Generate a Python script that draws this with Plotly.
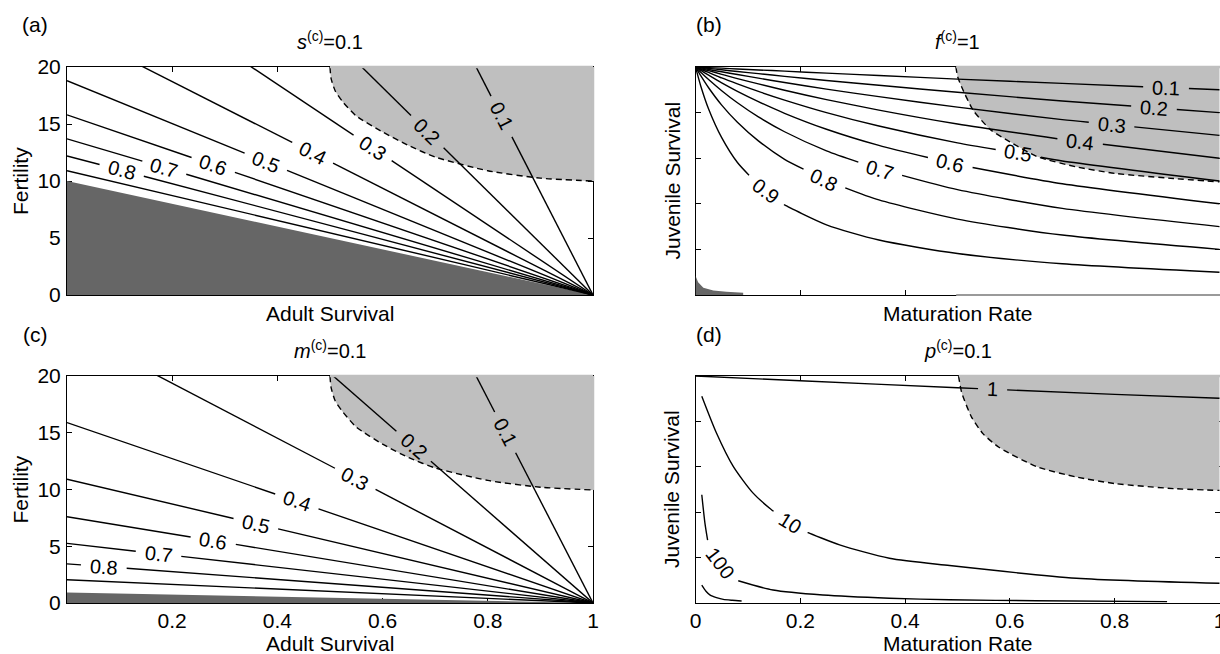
import numpy as np
import plotly.graph_objects as go

W, H = 1220, 654
FONT = "Liberation Sans, Arial, Helvetica, sans-serif"
LIGHT = "#bfbfbf"
DARK = "#666666"
FS = 21        # tick / axis-title size
LFS = 20       # contour label size

# ---------------- panel (a): s(c)=0.1 ----------------
a_levels = ["0.9", "0.8", "0.7", "0.6", "0.5", "0.4", "0.3", "0.2", "0.1"]
a_intercepts = [10.9, 12.2, 13.7, 15.8, 18.8, 23.4, 30.8, 45.5, 90.0]   # fertility at adult survival 0
a_label_x = [None, 0.104, 0.185, 0.278, 0.378, 0.467, 0.581, 0.685, 0.826]
a_dark_intercept = 10.0
a_bound_x = [0.5, 0.502, 0.51, 0.525, 0.55, 0.6, 0.65, 0.7, 0.8, 0.9, 1.0]
a_bound_y = [20.0, 19.0, 17.9, 16.9, 15.7, 14.3, 13.1, 12.1, 10.9, 10.25, 10.0]

# ---------------- panel (c): m(c)=0.1 ----------------
c_levels = ["0.9", "0.8", "0.7", "0.6", "0.5", "0.4", "0.3", "0.2", "0.1"]
c_intercepts = [2.05, 3.45, 5.25, 7.6, 10.9, 15.9, 24.2, 40.5, 90.0]
c_label_x = [None, 0.07, 0.174, 0.278, 0.359, 0.437, 0.548, 0.659, 0.833]
c_dark_intercept = 0.93
c_bound_x = [0.5, 0.502, 0.51, 0.525, 0.55, 0.6, 0.65, 0.7, 0.8, 0.9, 1.0]
c_bound_y = [20.0, 19.0, 17.8, 16.8, 15.5, 14.0, 12.8, 11.9, 10.8, 10.2, 9.96]

# ---------------- panel (b): f(c)=1 ----------------
b_x = [0.0, 0.01, 0.025, 0.05, 0.08, 0.12, 0.17, 0.25, 0.35, 0.5, 0.7, 1.0]
b_levels = ["0.1", "0.2", "0.3", "0.4", "0.5", "0.6", "0.7", "0.8", "0.9"]
b_y01 = [1.0, 0.999, 0.997, 0.995, 0.991, 0.987, 0.982, 0.973, 0.963, 0.947, 0.928, 0.900]
b_y02 = [1.0, 0.998, 0.994, 0.988, 0.980, 0.971, 0.959, 0.941, 0.920, 0.889, 0.851, 0.800]
b_y03 = [1.0, 0.996, 0.989, 0.979, 0.967, 0.951, 0.932, 0.903, 0.870, 0.824, 0.769, 0.700]
b_y04 = [1.0, 0.993, 0.984, 0.968, 0.949, 0.926, 0.898, 0.857, 0.811, 0.750, 0.682, 0.600]
b_y05 = [1.0, 0.990, 0.976, 0.952, 0.926, 0.893, 0.855, 0.800, 0.741, 0.667, 0.588, 0.500]
b_y06 = [1.0, 0.985, 0.964, 0.930, 0.893, 0.848, 0.797, 0.727, 0.656, 0.571, 0.488, 0.400]
b_y07 = [1.0, 0.977, 0.945, 0.896, 0.843, 0.781, 0.716, 0.632, 0.551, 0.462, 0.380, 0.300]
b_y08 = [1.0, 0.962, 0.909, 0.833, 0.758, 0.676, 0.595, 0.500, 0.417, 0.333, 0.263, 0.200]
b_y09 = [1.0, 0.917, 0.816, 0.690, 0.581, 0.481, 0.395, 0.308, 0.241, 0.182, 0.137, 0.100]
b_curves = [b_y01, b_y02, b_y03, b_y04, b_y05, b_y06, b_y07, b_y08, b_y09]
b_label_x = [0.898, 0.875, 0.794, 0.734, 0.616, 0.486, 0.352, 0.245, 0.134]
b_dark_x = [0.0, 0.0, 0.005, 0.015, 0.034, 0.059, 0.091, 0.091]
b_dark_y = [0.0, 0.084, 0.056, 0.032, 0.020, 0.014, 0.010, 0.0]
b_bound_x = [0.497, 0.5, 0.508, 0.53, 0.564, 0.6, 0.653, 0.727, 0.801, 0.912, 1.0]
b_bound_y = [1.0, 0.96, 0.912, 0.81, 0.723, 0.672, 0.606, 0.562, 0.533, 0.511, 0.496]

# ---------------- panel (d): p(c)=0.1 ----------------
d1_x = [0.0, 0.2, 0.5, 0.8, 1.0]
d1_y = [1.0, 0.979, 0.948, 0.919, 0.902]
d10_x = [0.012, 0.04, 0.072, 0.11, 0.145, 0.18, 0.215, 0.275, 0.37, 0.485, 0.727, 1.0]
d10_y = [0.911, 0.749, 0.602, 0.484, 0.411, 0.352, 0.31, 0.256, 0.197, 0.165, 0.109, 0.087]
d100_x = [0.012, 0.018, 0.024, 0.047, 0.0815, 0.148, 0.243, 0.37, 0.485, 0.65, 0.90]
d100_y = [0.477, 0.352, 0.264, 0.178, 0.098, 0.057, 0.035, 0.021, 0.014, 0.010, 0.006]
d1000_x = [0.012, 0.02, 0.028, 0.04, 0.053, 0.07, 0.088]
d1000_y = [0.079, 0.052, 0.035, 0.024, 0.016, 0.012, 0.009]
d_labels = ["1", "10", "100"]
d_label_x = [0.567, 0.18, 0.047]
d_bound_x = [0.502, 0.508, 0.527, 0.549, 0.579, 0.653, 0.727, 0.801, 0.912, 1.0]
d_bound_y = [1.0, 0.927, 0.818, 0.745, 0.686, 0.599, 0.555, 0.526, 0.504, 0.496]

# ---------------- layout geometry (pixels) ----------------
BOX = {  # left, right, top, bottom
    "a": (67, 593, 67, 295),
    "b": (695.5, 1220, 67, 295),
    "c": (67, 593, 376, 603),
    "d": (695.5, 1220, 376, 603),
}
AX = {"a": ("x", "y"), "b": ("x2", "y2"), "c": ("x3", "y3"), "d": ("x4", "y4")}
YMAX = {"a": 20.0, "b": 1.0, "c": 20.0, "d": 1.0}


def px_scale(p):
    l, r, t, b = BOX[p]
    return (r - l), (b - t) / YMAX[p]


fig = go.Figure()
annotations = []
shapes = []
LW = 1.4


def add(p, **kw):
    xa, ya = AX[p]
    kw.setdefault("showlegend", False)
    kw.setdefault("hoverinfo", "skip")
    fig.add_trace(go.Scatter(xaxis=xa, yaxis=ya, **kw))


def gray_region(p, bx, by):
    add(p, x=[bx[0], 1.0], y=[YMAX[p], YMAX[p]], mode="lines", line=dict(width=0, color=LIGHT))
    add(p, x=bx, y=by, mode="lines", fill="tonexty", fillcolor=LIGHT,
        line=dict(width=0, color=LIGHT, shape="spline", smoothing=0.6))


def dashed(p, bx, by):
    add(p, x=bx, y=by, mode="lines",
        line=dict(width=1.4, color="black", dash="6px,4px", shape="spline", smoothing=0.6))


def text_width(t):
    return sum(0.278 if ch == "." else 0.556 for ch in t) * LFS


def split_at_label(p, xs, ys, x0, y0, half):
    """Break a contour polyline where its label sits (pixel distance < half)."""
    kx, ky = px_scale(p)
    pts = list(zip(xs, ys))

    def dist(pt):
        return np.hypot((pt[0] - x0) * kx, (pt[1] - y0) * ky)

    def cut(a, b):  # a outside, b inside -> point on a-b at distance half
        lo, hi = 0.0, 1.0
        for _ in range(40):
            m = (lo + hi) / 2
            q = (a[0] + (b[0] - a[0]) * m, a[1] + (b[1] - a[1]) * m)
            if dist(q) >= half:
                lo = m
            else:
                hi = m
        return (a[0] + (b[0] - a[0]) * lo, a[1] + (b[1] - a[1]) * lo)

    center = (x0, y0)
    left = [pt for pt in pts if pt[0] < x0]
    right = [pt for pt in pts if pt[0] > x0]
    lkeep = [pt for pt in left if dist(pt) >= half]
    rkeep = [pt for pt in right if dist(pt) >= half]
    out_x, out_y = [], []
    if lkeep:
        last = lkeep[-1]
        i = pts.index(last)
        nxt = pts[i + 1] if i + 1 < len(pts) and pts[i + 1][0] < x0 else center
        end = cut(last, nxt)
        seg = lkeep + [end]
        out_x += [q[0] for q in seg]
        out_y += [q[1] for q in seg]
    out_x.append(None)
    out_y.append(None)
    if rkeep:
        first = rkeep[0]
        i = pts.index(first)
        prv = pts[i - 1] if i - 1 >= 0 and pts[i - 1][0] > x0 else center
        start = cut(first, prv)
        seg = [start] + rkeep
        out_x += [q[0] for q in seg]
        out_y += [q[1] for q in seg]
    return out_x, out_y


def label(p, text, x0, y0, ang):
    xa, ya = AX[p]
    annotations.append(dict(
        x=x0, y=y0, xref=xa, yref=ya, text=text, showarrow=False, textangle=ang,
        xanchor="center", yanchor="middle",
        font=dict(family=FONT, size=LFS, color="black")))


def curve_angle(p, xs, ys, x0, h=0.01):
    kx, ky = px_scale(p)
    y1 = np.interp(x0 - h, xs, ys)
    y2 = np.interp(x0 + h, xs, ys)
    return float(np.degrees(np.arctan2(-(y2 - y1) * ky, 2 * h * kx)))


def contour(p, xs, ys, lev=None, x0=None, h=0.01, spline=True):
    shape = dict(shape="spline", smoothing=0.7) if spline else {}
    if lev is None:
        add(p, x=xs, y=ys, mode="lines", line=dict(width=LW, color="black", **shape))
        return
    y0 = float(np.interp(x0, xs, ys))
    half = text_width(lev) / 2 + 9
    gx, gy = split_at_label(p, xs, ys, x0, y0, half)
    add(p, x=gx, y=gy, mode="lines", connectgaps=False,
        line=dict(width=LW, color="black", **shape))
    label(p, lev, x0, y0, curve_angle(p, xs, ys, x0, h))


# ---- straight-line panels (a) and (c)
for p, levels, icpts, lx, dark, bx, by in [
    ("a", a_levels, a_intercepts, a_label_x, a_dark_intercept, a_bound_x, a_bound_y),
    ("c", c_levels, c_intercepts, c_label_x, c_dark_intercept, c_bound_x, c_bound_y),
]:
    gray_region(p, bx, by)
    add(p, x=[0, 0, 1], y=[0, dark, 0], mode="lines", fill="toself", fillcolor=DARK,
        line=dict(width=0, color=DARK))
    dashed(p, bx, by)
    for lev, F0, x0 in zip(levels, icpts, lx):
        if x0 is None:
            contour(p, [0, 1], [F0, 0], spline=False)
        else:
            contour(p, [0, 1], [F0, 0], lev, x0, spline=False)

# ---- panel (b)
gray_region("b", b_bound_x, b_bound_y)
add("b", x=b_dark_x, y=b_dark_y, mode="lines", fill="toself", fillcolor=DARK,
    line=dict(width=0, color=DARK))
dashed("b", b_bound_x, b_bound_y)
for lev, ys, x0 in zip(b_levels, b_curves, b_label_x):
    contour("b", b_x, ys, lev, x0)

# ---- panel (d)
gray_region("d", d_bound_x, d_bound_y)
dashed("d", d_bound_x, d_bound_y)
d_curves = [(d1_x, d1_y), (d10_x, d10_y), (d100_x, d100_y)]
for lev, (xs, ys), x0 in zip(d_labels, d_curves, d_label_x):
    contour("d", xs, ys, lev, x0, h=0.008)
contour("d", d1000_x, d1000_y)

# ---- hide the frame where the light region touches it
for p, bx, by in [("a", a_bound_x, a_bound_y), ("b", b_bound_x, b_bound_y),
                  ("c", c_bound_x, c_bound_y), ("d", d_bound_x, d_bound_y)]:
    xa, ya = AX[p]
    shapes.append(dict(type="line", xref=xa + " domain", yref=ya + " domain",
                       x0=bx[0], x1=1.0, y0=1.0, y1=1.0, layer="above",
                       line=dict(color=LIGHT, width=2.5)))
    if p in ("a", "c"):
        shapes.append(dict(type="line", xref=xa + " domain", yref=ya + " domain",
                           x0=1.0, x1=1.0, y0=by[-1] / YMAX[p], y1=1.0, layer="above",
                           line=dict(color=LIGHT, width=2.5)))

# panel (b): the lower frame right of the light region is drawn faint, without ticks
l, r, t, b = BOX["b"]
shapes.append(dict(type="rect", xref="x2 domain", yref="y2 domain", x0=b_bound_x[0], x1=1.0,
                   y0=0.0, y1=7 / (b - t), layer="above", fillcolor="white", line=dict(width=0)))
shapes.append(dict(type="line", xref="x2 domain", yref="y2 domain", x0=b_bound_x[0], x1=1.0,
                   y0=0.0, y1=0.0, layer="above", line=dict(color="#9a9a9a", width=2)))


# ---- axes
def xdom(p):
    l, r, t, b = BOX[p]
    return [l / W, r / W]


def ydom(p):
    l, r, t, b = BOX[p]
    return [1 - b / H, 1 - t / H]


def axis(**kw):
    d = dict(showline=True, linecolor="black", linewidth=1, mirror="ticks", ticks="inside",
             ticklen=5, tickwidth=1, tickcolor="black", showgrid=False, zeroline=False,
             layer="below traces", automargin=False, fixedrange=True,
             tickfont=dict(family=FONT, size=FS, color="black"))
    d.update(kw)
    return d


s_ticks = [0.2, 0.4, 0.6, 0.8]
x_labels_c = ["0.2", "0.4", "0.6", "0.8", "1"]
x_labels_d = ["0", "0.2", "0.4", "0.6", "0.8", "1"]
f_ticks = [0, 5, 10, 15, 20]

layout = dict(
    width=W, height=H, margin=dict(l=0, r=0, t=0, b=0),
    paper_bgcolor="white", plot_bgcolor="white", showlegend=False,
    font=dict(family=FONT, size=FS, color="black"),
    xaxis=axis(domain=xdom("a"), range=[0, 1], tickvals=s_ticks, showticklabels=False, anchor="y"),
    yaxis=axis(domain=ydom("a"), range=[0, 20], tickvals=f_ticks, anchor="x", ticklabelstandoff=1),
    xaxis2=axis(domain=xdom("b"), range=[0, 1.001], tickvals=s_ticks, showticklabels=False, anchor="y2"),
    yaxis2=axis(domain=ydom("b"), range=[0, 1], tickvals=s_ticks, showticklabels=False, anchor="x2"),
    xaxis3=axis(domain=xdom("c"), range=[0, 1], tickvals=[0.2, 0.4, 0.6, 0.8, 1.0],
                ticktext=x_labels_c, anchor="y3", ticklabelstandoff=-1, ticklabeloverflow="allow"),
    yaxis3=axis(domain=ydom("c"), range=[0, 20], tickvals=f_ticks, anchor="x3", ticklabelstandoff=1),
    xaxis4=axis(domain=xdom("d"), range=[0, 1.001], tickvals=[0, 0.2, 0.4, 0.6, 0.8, 1.0],
                ticktext=x_labels_d, anchor="y4", ticklabelstandoff=-1, ticklabeloverflow="allow"),
    yaxis4=axis(domain=ydom("d"), range=[0, 1], tickvals=s_ticks, showticklabels=False, anchor="x4"),
)


def paper_text(text, px, py, size=FS, angle=0):
    annotations.append(dict(x=px / W, y=1 - py / H, xref="paper", yref="paper", text=text,
                            showarrow=False, xanchor="center", yanchor="middle", textangle=angle,
                            font=dict(family=FONT, size=size, color="black")))


panel_titles = {"a": "<i>s</i><sup>(c)</sup>=0.1", "b": "<i>f</i><sup>(c)</sup>=1",
                "c": "<i>m</i><sup>(c)</sup>=0.1", "d": "<i>p</i><sup>(c)</sup>=0.1"}
x_titles = {"a": "Adult Survival", "b": "Maturation Rate", "c": "Adult Survival", "d": "Maturation Rate"}
y_titles = {"a": "Fertility", "b": "Juvenile Survival", "c": "Fertility", "d": "Juvenile Survival"}

for p in "abcd":
    l, r, t, b = BOX[p]
    cx = (l + r) / 2
    paper_text(panel_titles[p], cx, t - 27, size=20)
    paper_text("(" + p + ")", l - 32 if p in "ac" else l + 13, t - 42, size=21)
    paper_text(x_titles[p], cx, b + (19 if p in "ab" else 40))
    paper_text(y_titles[p], l - 47 if p in "ac" else l - 24, (t + b) / 2, angle=-90)

layout["annotations"] = annotations
layout["shapes"] = shapes
fig.update_layout(**layout)
fig.write_html(
    "out.html",
    config={"displayModeBar": False},
    post_script="document.body.style.margin='0';document.body.style.padding='0';"
                "document.body.style.overflow='hidden';",
)
